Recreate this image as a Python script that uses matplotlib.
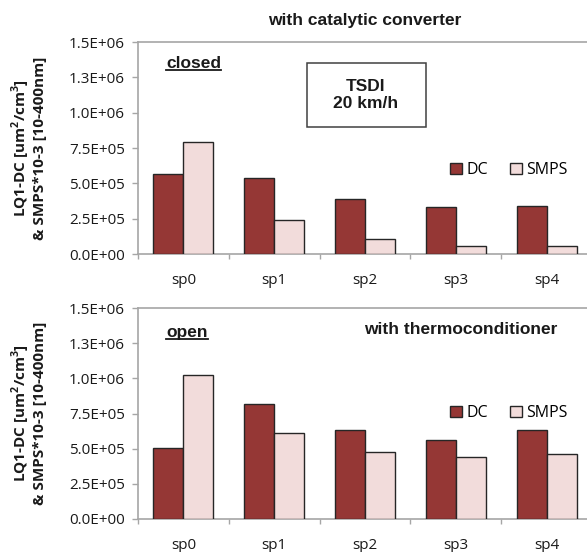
import matplotlib
matplotlib.use("Agg")
import matplotlib.pyplot as plt
import numpy as np
from matplotlib.lines import Line2D

# sampling points and the two measured series for each mode
points = ["sp0", "sp1", "sp2", "sp3", "sp4"]
dc_closed = [5.65e5, 5.35e5, 3.87e5, 3.35e5, 3.42e5]
smps_closed = [7.92e5, 2.43e5, 1.04e5, 0.57e5, 0.57e5]
dc_open = [5.07e5, 8.17e5, 6.30e5, 5.59e5, 6.30e5]
smps_open = [10.24e5, 6.11e5, 4.78e5, 4.43e5, 4.64e5]
yticks = [0, 2.5e5, 5.0e5, 7.5e5, 1.0e6, 1.25e6, 1.5e6]
ytick_labels = ["0.0E+00", "2.5E+05", "5.0E+05", "7.5E+05", "1.0E+06", "1.3E+06", "1.5E+06"]

DC_COL = "#953735"
SMPS_COL = "#F2DCDB"
AX_COL = "#A6A6A6"
TXT = "#1a1a1a"

plt.rcParams["font.family"] = ["Open Sans", "DejaVu Sans"]
plt.rcParams["mathtext.fontset"] = "custom"
plt.rcParams["mathtext.rm"] = "Open Sans"
plt.rcParams["mathtext.bf"] = "Open Sans:bold"

fig = plt.figure(figsize=(5.87, 5.52), dpi=100)
W, H = 587, 552


def make_axes(top, bottom):
    left, right = 138, 592
    return fig.add_axes([left / W, 1 - bottom / H, (right - left) / W, (bottom - top) / H])


def draw_panel(ax, dc, smps, legend_y):
    x = np.arange(len(points))
    w = 0.33
    ax.bar(x - w / 2, dc, w, color=DC_COL, edgecolor="#262626", linewidth=1, label="DC", zorder=3)
    ax.bar(x + w / 2, smps, w, color=SMPS_COL, edgecolor="#262626", linewidth=1, label="SMPS", zorder=3)
    ax.set_xlim(-0.5, len(points) - 0.5)
    ax.set_ylim(0, 1.5e6)
    ax.set_yticks(yticks)
    ax.set_yticklabels(ytick_labels, fontsize=11, color=TXT)
    ax.set_xticks(x)
    ax.set_xticklabels(points, fontsize=11, color=TXT)
    ax.set_xticks(np.arange(-0.5, len(points)), minor=True)
    ax.tick_params(axis="x", which="major", length=0, pad=14)
    ax.tick_params(axis="x", which="minor", length=3.8, color=AX_COL, width=1)
    ax.tick_params(axis="y", length=4.5, color=AX_COL, width=1, pad=5)
    for s in ax.spines.values():
        s.set_color(AX_COL)
        s.set_linewidth(1.2)
    ax.set_ylabel("LQ1-DC [um$^{\\mathbf{2}}$/cm$^{\\mathbf{3}}$]\n& SMPS*10-3 [10-400nm]",
                  fontsize=11, fontweight="bold", color=TXT, linespacing=1.05)
    ax.yaxis.set_label_coords(-91 / 454, 0.5)
    leg = ax.legend(loc="center left", bbox_to_anchor=(0.688, legend_y), ncol=2, frameon=False,
                    fontsize=11.5, handlelength=0.75, handleheight=0.75, handletextpad=0.25,
                    columnspacing=1.4, borderpad=0, borderaxespad=0)
    leg.set_zorder(5)


ax1 = make_axes(42, 254)
ax2 = make_axes(308, 519)
draw_panel(ax1, dc_closed, smps_closed, 0.396)
draw_panel(ax2, dc_open, smps_open, 0.502)

arial = ["Liberation Sans", "DejaVu Sans"]
fig.text(365 / W, 1 - 20 / H, "with catalytic converter", ha="center", va="center",
         fontsize=12.5, fontweight="bold", family=arial, color=TXT)
fig.text(461 / W, 1 - 330 / H, "with thermoconditioner", ha="center", va="center",
         fontsize=12.5, fontweight="bold", family=arial, color=TXT)
fig.text(366 / W, 1 - 95 / H, "TSDI\n20 km/h", ha="center", va="center",
         fontsize=12.5, fontweight="bold", family=arial, color=TXT, linespacing=1.2)
fig.patches.append(plt.Rectangle((307 / W, 1 - 127 / H), 119 / W, 64 / H,
                                 transform=fig.transFigure, fill=False,
                                 edgecolor="#404040", linewidth=1.1))

labels = []
for txt, y in [("closed", 63), ("open", 332)]:
    labels.append(fig.text(166 / W, 1 - y / H, txt, ha="left", va="center", fontsize=12.5,
                           fontweight="bold", family=arial, color=TXT))

# underline the mode labels using their rendered extents
fig.canvas.draw()
renderer = fig.canvas.get_renderer()
for t in labels:
    bb = t.get_window_extent(renderer).transformed(fig.transFigure.inverted())
    yline = bb.y0 + 1.0 / H
    fig.lines.append(Line2D([bb.x0, bb.x1], [yline, yline], transform=fig.transFigure,
                            color=TXT, linewidth=1.3))

fig.savefig("out.png", dpi=100)
